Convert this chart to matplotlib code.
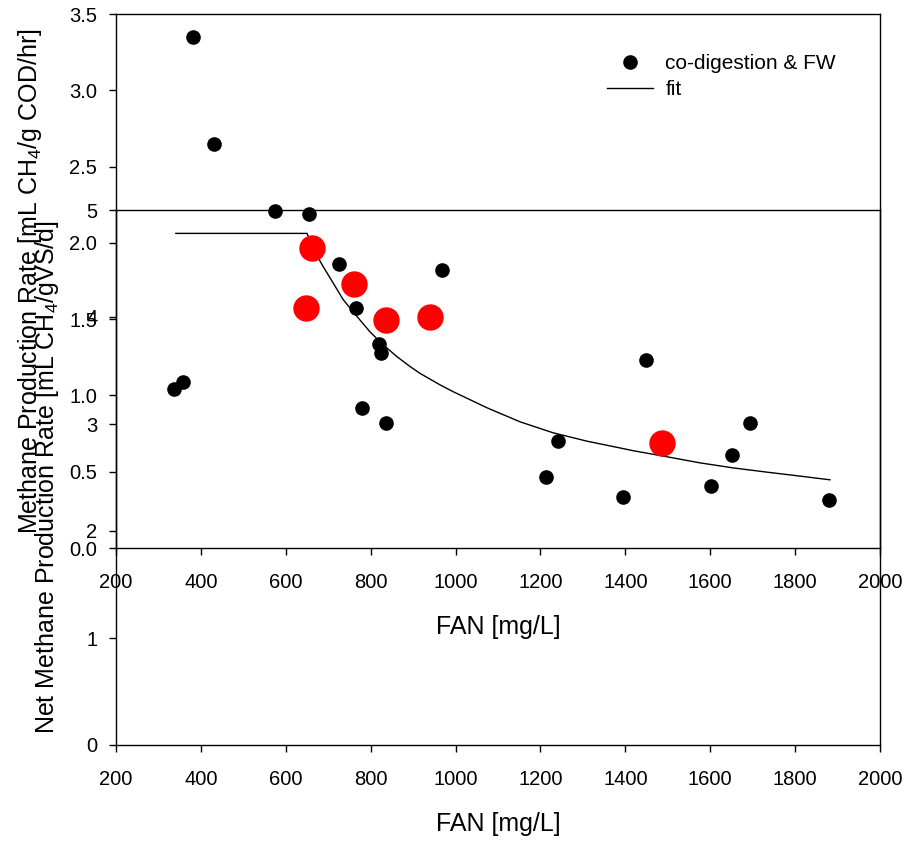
import matplotlib
matplotlib.use('Agg')
import matplotlib.pyplot as plt
from matplotlib.lines import Line2D

plt.rcParams['font.family'] = ['Liberation Sans', 'DejaVu Sans']
plt.rcParams['mathtext.fontset'] = 'custom'
plt.rcParams['mathtext.rm'] = 'Liberation Sans'
plt.rcParams['mathtext.it'] = 'Liberation Sans:italic'
plt.rcParams['mathtext.default'] = 'regular'

# co-digestion & FW (rate per g COD per hour)
fan_cod = [381, 431, 575, 655, 725, 968, 765, 820, 824, 1449, 358, 337,
           780, 837, 1694, 1241, 1651, 1213, 1395, 1602, 1880]
rate_cod = [3.35, 2.65, 2.21, 2.19, 1.86, 1.825, 1.575, 1.34, 1.275, 1.23, 1.085, 1.045,
            0.92, 0.82, 0.82, 0.70, 0.61, 0.465, 0.335, 0.405, 0.315]

# fit curve
fit_fan = [341, 650, 663, 676, 688, 711, 735, 768, 798, 829, 862, 893, 916, 963,
           994, 1074, 1152, 1230, 1310, 1387, 1418, 1498, 1576, 1654, 1734, 1812, 1882]
fit_rate = [2.062, 2.062, 1.98, 1.904, 1.845, 1.740, 1.629, 1.517, 1.418, 1.333, 1.254,
            1.189, 1.145, 1.070, 1.025, 0.919, 0.827, 0.755, 0.700, 0.656, 0.638,
            0.598, 0.558, 0.525, 0.497, 0.471, 0.447]

# net methane production (per g VS per day)
fan_vs = [662, 648, 761, 836, 940, 1486]
rate_vs = [4.645, 4.085, 4.31, 3.97, 4.0, 2.82]

fig = plt.figure(figsize=(9.21, 8.41), dpi=100)

W, H = 921, 841
def box(l, t, r, b):
    return [l / W, 1 - b / H, (r - l) / W, (b - t) / H]

ax1 = fig.add_axes(box(116, 14, 880, 548))
ax2 = fig.add_axes(box(116, 210, 880, 745))
for ax in (ax1, ax2):
    ax.patch.set_alpha(0)
    ax.set_xlim(200, 2000)
    ax.set_xticks(range(200, 2001, 200))
    ax.tick_params(direction='out', length=5, width=1, labelsize=14.5)
    ax.tick_params(axis='x', pad=13)
    ax.tick_params(axis='y', pad=8.5)
    for s in ax.spines.values():
        s.set_linewidth(1)

ax1.set_ylim(0, 3.5)
ax1.set_yticks([0, 0.5, 1.0, 1.5, 2.0, 2.5, 3.0, 3.5])
ax1.set_yticklabels(['0.0', '0.5', '1.0', '1.5', '2.0', '2.5', '3.0', '3.5'])
ax2.set_ylim(0, 5)
ax2.set_yticks([0, 1, 2, 3, 4, 5])

ax1.plot(fit_fan, fit_rate, color='black', lw=1, zorder=2)
ax1.plot(fan_cod, rate_cod, 'o', color='black', ms=9.5, zorder=3)
ax2.plot(fan_vs, rate_vs, 'o', color='red', ms=18, zorder=3)

fig.text(498 / W, 1 - 627 / H, 'FAN [mg/L]', ha='center', va='center', fontsize=18)
fig.text(498 / W, 1 - 824 / H, 'FAN [mg/L]', ha='center', va='center', fontsize=18)
fig.text(30 / W, 1 - 281 / H, 'Methane Production Rate [mL CH$_4$/g COD/hr]',
         rotation=90, ha='center', va='center', fontsize=18)
fig.text(47 / W, 1 - 477 / H, 'Net Methane Production Rate [mL CH$_4$/gVS/d]',
         rotation=90, ha='center', va='center', fontsize=18)

handles = [Line2D([], [], ls='none', marker='o', color='black', ms=9.5),
           Line2D([], [], color='black', lw=1)]
ax1.legend(handles, ['co-digestion & FW', 'fit'], frameon=False, fontsize=15,
           loc='upper left', bbox_to_anchor=(607 / W, 1 - 54 / H),
           bbox_transform=fig.transFigure, borderpad=0, borderaxespad=0,
           handlelength=2.2, handletextpad=0.6, labelspacing=0.35)

fig.savefig('out.png', dpi=100)
